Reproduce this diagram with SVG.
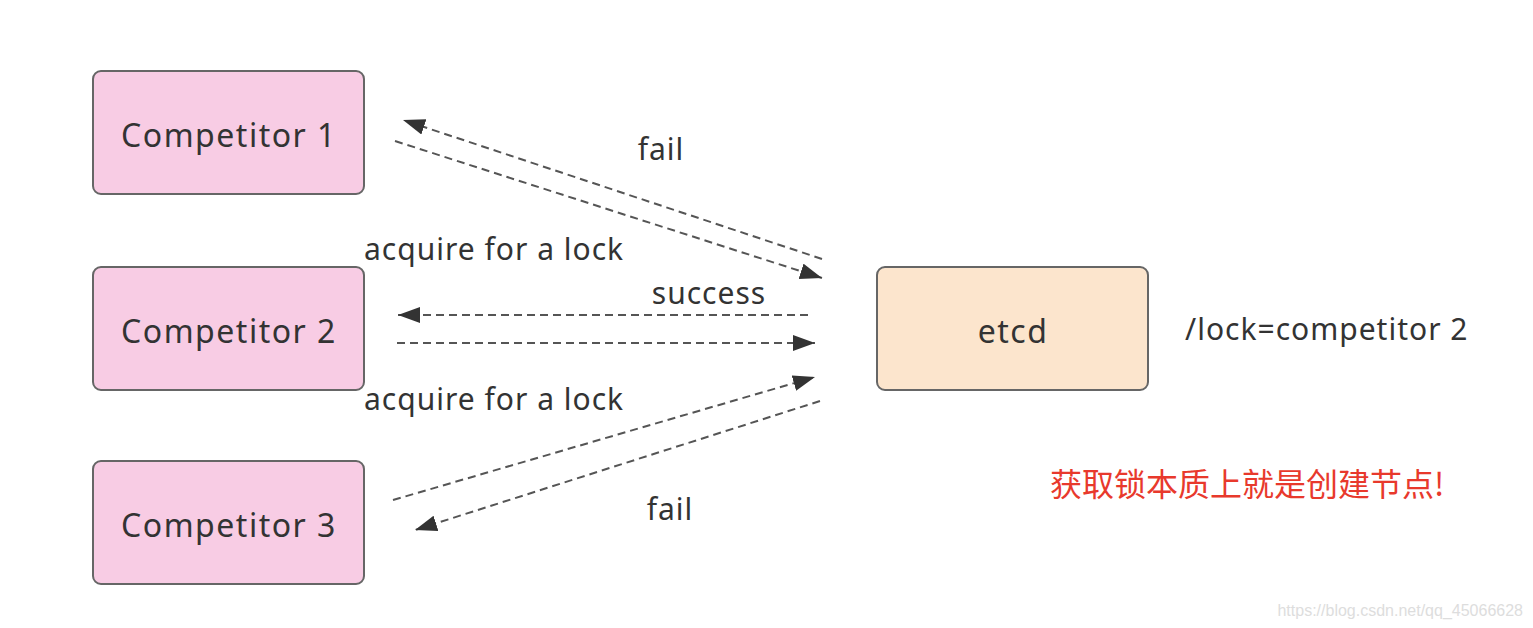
<svg xmlns="http://www.w3.org/2000/svg" width="1533" height="628" viewBox="0 0 1533 628">
<defs>
<style>
.box{stroke:#666;stroke-width:2}
.comp{fill:#f8cce4}
.etcd{fill:#fce5cd}
.lbl{font-family:"Noto Sans","DejaVu Sans",sans-serif;fill:#333}
.node{font-size:32px;text-anchor:middle;letter-spacing:1.5px}
.edge{font-size:30px;letter-spacing:1px}
.conn{stroke:#555;stroke-width:2;stroke-dasharray:8 5;fill:none;marker-end:url(#ah)}
</style>
<marker id="ah" markerUnits="userSpaceOnUse" markerWidth="24" markerHeight="18" refX="22" refY="8" orient="auto">
<path d="M0,0 L22,8 L0,16 z" fill="#333"/>
</marker>
</defs>
<rect width="1533" height="628" fill="#fff"/>
<g id="competitor1">
<rect class="box comp" x="93" y="71" width="271" height="123" rx="8"/>
<text class="lbl node" x="229" y="147">Competitor 1</text>
</g>
<g id="competitor2">
<rect class="box comp" x="93" y="267" width="271" height="123" rx="8"/>
<text class="lbl node" x="229" y="343">Competitor 2</text>
</g>
<g id="competitor3">
<rect class="box comp" x="93" y="461" width="271" height="123" rx="8"/>
<text class="lbl node" x="229" y="537">Competitor 3</text>
</g>
<g id="etcd">
<rect class="box etcd" x="877" y="267" width="271" height="123" rx="8"/>
<text class="lbl node" x="1013" y="343">etcd</text>
</g>
<g id="connectors">
<line class="conn" x1="822" y1="259" x2="403" y2="120"/>
<line class="conn" x1="395" y1="141" x2="822" y2="278"/>
<line class="conn" x1="808" y1="315" x2="398" y2="315"/>
<line class="conn" x1="397" y1="343" x2="815" y2="343"/>
<line class="conn" x1="393" y1="500" x2="815" y2="377"/>
<line class="conn" x1="820" y1="401" x2="415" y2="530"/>
<text class="lbl edge" x="661" y="160" text-anchor="middle">fail</text>
<text class="lbl edge" x="364" y="260">acquire for a lock</text>
<text class="lbl edge" x="709" y="304" text-anchor="middle">success</text>
<text class="lbl edge" x="364" y="410">acquire for a lock</text>
<text class="lbl edge" x="670" y="520" text-anchor="middle">fail</text>
</g>
<text class="lbl" x="1185" y="340" font-size="30" letter-spacing="1">/lock=competitor 2</text>
<text x="1050" y="496" font-family="'Noto Sans CJK SC',sans-serif" font-size="32" fill="#e8392c">获取锁本质上就是创建节点!</text>
<text x="1523" y="616" text-anchor="end" font-family="'Liberation Sans',sans-serif" font-size="16" fill="#ddd">https://blog.csdn.net/qq_45066628</text>
</svg>
